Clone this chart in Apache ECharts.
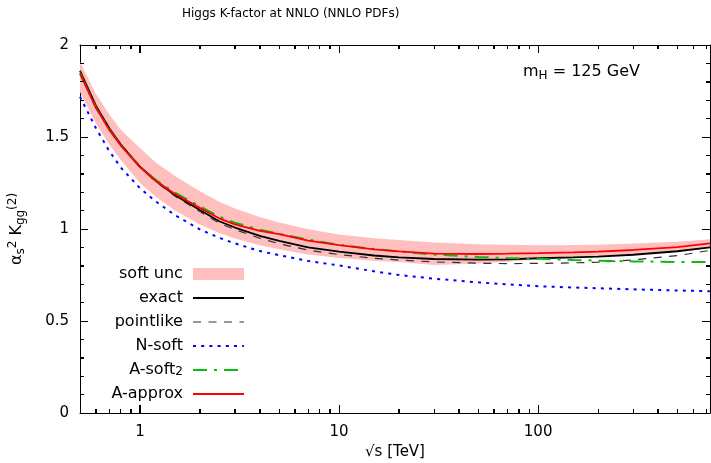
<!DOCTYPE html>
<html><head><meta charset="utf-8">
<script src="https://cdn.jsdelivr.net/npm/echarts@6/dist/echarts.min.js"></script>
<style>html,body{margin:0;padding:0;background:#fff}#c{width:711px;height:463px}</style>
</head><body><div id="c"></div>
<script>
// sqrt(s) in TeV
const sqrtS    = [0.5, 0.6, 0.7, 0.8, 1, 1.2, 1.5, 2, 2.5, 3, 4, 5, 7, 10, 15, 20, 30, 50, 70, 100, 150, 200, 300, 500, 730];
const exact    = [1.860,1.672,1.549,1.460,1.339,1.262,1.183,1.103,1.042,1.008,0.963,0.935,0.900,0.877,0.856,0.846,0.837,0.834,0.835,0.841,0.846,0.850,0.860,0.879,0.900];
const pointlike= [1.860,1.672,1.550,1.460,1.337,1.257,1.178,1.095,1.032,0.997,0.950,0.920,0.885,0.861,0.841,0.831,0.821,0.814,0.812,0.813,0.816,0.820,0.832,0.855,0.884];
const nSoft    = [1.719,1.550,1.425,1.335,1.222,1.150,1.075,0.998,0.952,0.922,0.880,0.858,0.826,0.802,0.770,0.750,0.730,0.710,0.699,0.689,0.682,0.678,0.672,0.666,0.662];
const aSoft2   = [1.845,1.662,1.542,1.457,1.340,1.267,1.197,1.123,1.067,1.034,0.996,0.974,0.942,0.915,0.891,0.878,0.861,0.848,0.842,0.838,0.832,0.828,0.824,0.821,0.821];
const aApprox  = [1.845,1.660,1.540,1.455,1.336,1.262,1.190,1.115,1.058,1.025,0.990,0.972,0.937,0.912,0.889,0.878,0.866,0.864,0.866,0.869,0.873,0.877,0.886,0.902,0.922];
const bandHigh = [1.909,1.735,1.625,1.540,1.440,1.362,1.288,1.205,1.148,1.112,1.065,1.035,0.998,0.970,0.950,0.940,0.926,0.917,0.914,0.912,0.913,0.915,0.921,0.931,0.944];
const bandLow  = [1.745,1.575,1.460,1.375,1.250,1.175,1.100,1.025,0.978,0.948,0.912,0.890,0.862,0.843,0.828,0.820,0.804,0.812,0.822,0.836,0.843,0.848,0.860,0.880,0.901];

// tick positions (tick labels shown at the major ones)
const xMajorTicks = [1, 10, 100];
const xMinorTicks = [0.6,0.7,0.8,0.9,2,3,4,5,6,7,8,9,20,30,40,50,60,70,80,90,200,300,400,500,600,700];
const yMajorTicks = [0, 0.5, 1, 1.5, 2];
const yMinorTicks = [0.1,0.2,0.3,0.4,0.6,0.7,0.8,0.9,1.1,1.2,1.3,1.4,1.6,1.7,1.8,1.9];
const legendNames = ['soft unc', 'exact', 'pointlike', 'N-soft', 'A-soft2', 'A-approx'];

const FONT = 'DejaVu Sans';
const X_MIN = 0.5, X_MAX = 730, Y_MIN = 0, Y_MAX = 2;
function pairs(ys) { return sqrtS.map((x, i) => [x, ys[i]]); }
function snap(v) { return Math.round(v - 0.5) + 0.5; }

const chart = echarts.init(document.getElementById('c'), null, {renderer: 'canvas'});

const axisLineStyle = {color: '#000', width: 1};
const tickStyle = {color: '#000', width: 1};
const xAxes = [
  {
    type: 'log', logBase: 10, min: X_MIN, max: X_MAX, position: 'bottom',
    axisLine: {show: true, onZero: false, lineStyle: axisLineStyle},
    axisTick: {show: false},
    axisLabel: {show: true, customValues: xMajorTicks, fontSize: 15, color: '#000', fontFamily: FONT, margin: 12},
    splitLine: {show: false},
    name: '√s [TeV]', nameLocation: 'middle', nameGap: 30,
    nameTextStyle: {fontSize: 15, color: '#000', fontFamily: FONT}
  },
  {
    type: 'log', logBase: 10, min: X_MIN, max: X_MAX, position: 'top',
    axisLine: {show: true, onZero: false, lineStyle: axisLineStyle},
    axisTick: {show: false}, axisLabel: {show: false}, splitLine: {show: false}
  }
];
const yAxes = [
  {
    type: 'value', min: Y_MIN, max: Y_MAX, interval: 0.5, position: 'left',
    axisLine: {show: true, onZero: false, lineStyle: axisLineStyle},
    axisTick: {show: false},
    axisLabel: {show: true, fontSize: 15, color: '#000', fontFamily: FONT, margin: 11},
    splitLine: {show: false},
    name: '{m|α}{s|s}{p|2}{m| K}{s|gg}{p|(2)}',
    nameLocation: 'middle', nameGap: 53, nameRotate: 90,
    nameTextStyle: {
      color: '#000', fontFamily: FONT, fontSize: 16,
      rich: {
        m: {fontSize: 16, lineHeight: 20, fontFamily: FONT, color: '#000'},
        s: {fontSize: 12, lineHeight: 12, verticalAlign: 'bottom', fontFamily: FONT, color: '#000'},
        p: {fontSize: 12, lineHeight: 8, verticalAlign: 'top', fontFamily: FONT, color: '#000'}
      }
    }
  },
  {
    type: 'value', min: Y_MIN, max: Y_MAX, interval: 0.5, position: 'right',
    axisLine: {show: true, onZero: false, lineStyle: axisLineStyle},
    axisTick: {show: false}, axisLabel: {show: false}, splitLine: {show: false}
  }
];

function lineSeries(name, ys, color, width, type) {
  return {
    name: name, type: 'line', data: pairs(ys),
    symbol: 'none', smooth: false, z: 3,
    itemStyle: {color: color},
    lineStyle: {color: color, width: width, type: type}
  };
}

chart.setOption({
  animation: false,
  backgroundColor: '#fff',
  textStyle: {fontFamily: FONT},
  title: {
    text: 'Higgs K-factor at NNLO (NNLO PDFs)', left: 182, top: 8, padding: 0,
    textStyle: {fontSize: 12, fontWeight: 'normal', color: '#000', fontFamily: FONT}
  },
  grid: {left: 80, right: 1, top: 45, bottom: 50, containLabel: false, outerBoundsMode: 'none'},
  xAxis: xAxes,
  yAxis: yAxes,
  legend: {
    orient: 'vertical', align: 'right', right: 466, top: 266, padding: 0,
    itemWidth: 51, itemHeight: 12, itemGap: 8,
    selectedMode: false,
    lineStyle: {width: 'inherit'},
    itemStyle: {opacity: 0},
    formatter: function (n) { return n === 'A-soft2' ? '{n|A-soft}{s|2} ' : n + ' '; },
    textStyle: {
      fontSize: 16, color: '#000', fontFamily: FONT, lineHeight: 16,
      rich: {
        n: {fontSize: 16, lineHeight: 16, fontFamily: FONT, color: '#000'},
        s: {fontSize: 12, lineHeight: 6, verticalAlign: 'bottom', fontFamily: FONT, color: '#000'}
      }
    },
    data: [
      {name: legendNames[0], icon: 'rect', itemStyle: {borderWidth: 0, opacity: 1, color: '#ffbfbf'}},
      legendNames[1], legendNames[2], legendNames[3], legendNames[4], legendNames[5]
    ]
  },
  graphic: [{
    id: 'mh', type: 'text', left: 523, top: 64, silent: true, z: 20,
    style: {
      text: '{m|m}{s|H}{m| = 125 GeV}',
      fill: '#000', font: '16px "DejaVu Sans"',
      rich: {
        m: {fontSize: 16, lineHeight: 20, fontFamily: FONT, fill: '#000'},
        s: {fontSize: 12, lineHeight: 12, verticalAlign: 'bottom', fontFamily: FONT, fill: '#000'}
      }
    }
  }],
  series: [
    {
      name: 'soft unc', type: 'custom', z: 1, silent: true,
      itemStyle: {color: '#ffbfbf'},
      data: sqrtS.map((x, i) => [x, bandLow[i], bandHigh[i]]),
      encode: {x: 0, y: [1, 2]},
      renderItem: function (params, api) {
        if (params.dataIndex !== 0) return;
        const pts = [];
        for (let i = 0; i < sqrtS.length; i++) pts.push(api.coord([sqrtS[i], bandHigh[i]]));
        for (let i = sqrtS.length - 1; i >= 0; i--) pts.push(api.coord([sqrtS[i], bandLow[i]]));
        return {type: 'polygon', shape: {points: pts}, style: {fill: '#ffbfbf'}};
      }
    },
    lineSeries('exact', exact, '#000000', 1.8, 'solid'),
    lineSeries('pointlike', pointlike, '#303030', 1.2, [8, 7.5]),
    lineSeries('N-soft', nSoft, '#0000ff', 2, [3, 5.2]),
    lineSeries('A-soft2', aSoft2, '#12b812', 2, [14, 7, 3, 7]),
    lineSeries('A-approx', aApprox, '#ff0000', 1.8, 'solid')
  ]
});

// Frame ticks, attempt 1: extra axes moved onto the opposite frame edge so that their
// outward ticks point into the plot.
try {
  const gridH = 368, gridW = 630;
  function flipX(pos, ticks, len) {
    return {type: 'log', logBase: 10, min: X_MIN, max: X_MAX, position: pos, offset: -gridH,
      axisLine: {show: false, onZero: false}, axisLabel: {show: false}, splitLine: {show: false},
      axisTick: {show: true, inside: false, length: len, customValues: ticks, lineStyle: tickStyle}};
  }
  function flipY(pos, ticks, len) {
    return {type: 'value', min: Y_MIN, max: Y_MAX, position: pos, offset: -gridW,
      axisLine: {show: false, onZero: false}, axisLabel: {show: false}, splitLine: {show: false},
      axisTick: {show: true, inside: false, length: len, customValues: ticks, lineStyle: tickStyle}};
  }
  chart.setOption({
    xAxis: xAxes.concat([
      flipX('top', xMajorTicks, 8), flipX('top', xMinorTicks, 4),
      flipX('bottom', xMajorTicks, 8), flipX('bottom', xMinorTicks, 4)
    ]),
    yAxis: yAxes.concat([
      flipY('right', yMajorTicks, 8), flipY('right', yMinorTicks, 4),
      flipY('left', yMajorTicks, 8), flipY('left', yMinorTicks, 4)
    ])
  });
} catch (e) {}

// Frame ticks, attempt 2: graphic lines positioned through the axes' scales.
try {
  const tickEls = [];
  let tid = 0;
  const tl = function (x1, y1, x2, y2) {
    tickEls.push({id: 'tick' + (tid++), type: 'line', silent: true, zlevel: 1, z: 50,
      shape: {x1: x1, y1: y1, x2: x2, y2: y2}, style: {stroke: '#000', lineWidth: 1}});
  };
  const pBL = chart.convertToPixel({gridIndex: 0}, [X_MIN, Y_MIN]);
  const pTR = chart.convertToPixel({gridIndex: 0}, [X_MAX, Y_MAX]);
  const xLeft = pBL[0], yBottom = pBL[1], xRight = pTR[0], yTop = pTR[1];
  xMajorTicks.concat(xMinorTicks).forEach(function (v) {
    const len = xMajorTicks.indexOf(v) >= 0 ? 8 : 4;
    const x = snap(chart.convertToPixel({gridIndex: 0}, [v, Y_MIN])[0]);
    tl(x, yBottom, x, yBottom - len);
    tl(x, yTop, x, yTop + len);
  });
  yMajorTicks.concat(yMinorTicks).forEach(function (v) {
    const len = yMajorTicks.indexOf(v) >= 0 ? 8 : 4;
    const y = snap(chart.convertToPixel({gridIndex: 0}, [X_MIN, v])[1]);
    tl(xLeft, y, xLeft + len, y);
    tl(xRight, y, xRight - len, y);
  });
  chart.setOption({graphic: {elements: tickEls}});
} catch (e) {}
</script>
</body></html>
